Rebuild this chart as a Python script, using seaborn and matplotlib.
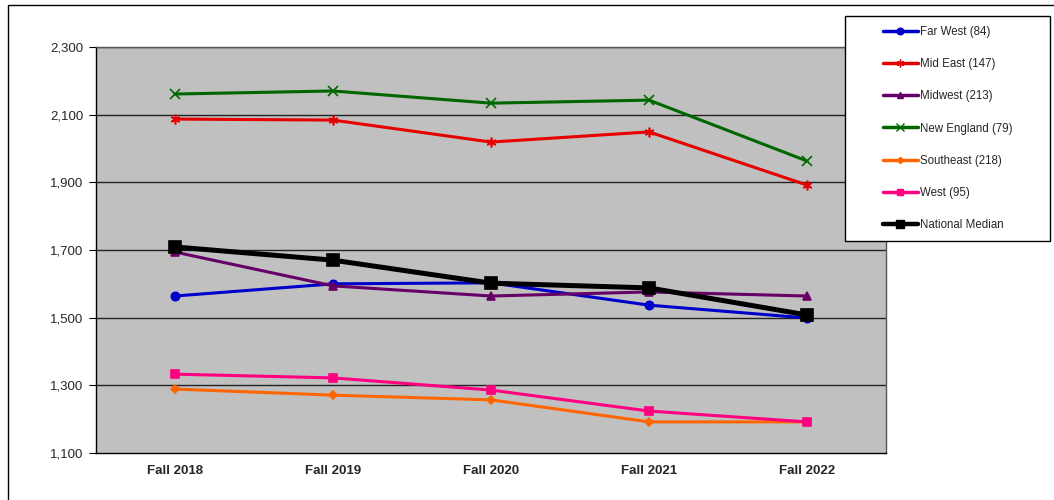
import matplotlib
matplotlib.use("Agg")
import matplotlib.pyplot as plt
import matplotlib.patches as mpatches
from matplotlib.lines import Line2D
import numpy as np
import pandas as pd
import seaborn as sns

seasons = ["Fall 2018", "Fall 2019", "Fall 2020", "Fall 2021", "Fall 2022"]

far_west = [1564, 1600, 1603, 1537, 1499]
mid_east = [2087, 2084, 2019, 2049, 1892]
midwest = [1694, 1594, 1564, 1576, 1564]
new_england = [2161, 2170, 2134, 2143, 1963]
southeast = [1289, 1271, 1257, 1192, 1192]
west = [1333, 1322, 1286, 1224, 1192]
national = [1709, 1670, 1602, 1588, 1508]

labels = ["Far West (84)", "Mid East (147)", "Midwest (213)", "New England (79)",
          "Southeast (218)", "West (95)", "National Median"]
series = [far_west, mid_east, midwest, new_england, southeast, west, national]
colors = ["#0000CC", "#E60000", "#660066", "#006600", "#FF6600", "#FF0080", "#000000"]
markers = ["o", (6, 2, 0), "^", "x", "D", "s", "s"]
msizes = [6, 7, 6, 7, 4, 6, 8]
lwidths = [2.2, 2.2, 2.2, 2.2, 2.2, 2.2, 3.6]

sns.set_style("white")
plt.rcParams["font.family"] = ["Liberation Sans", "DejaVu Sans"]

fig = plt.figure(figsize=(10.54, 5.0), dpi=100)
ax = fig.add_axes([96 / 1054, 47 / 500, 790 / 1054, 406 / 500])
ax.set_facecolor("#C0C0C0")

x = np.arange(len(seasons))
for vals, lab, c, m, ms, lw in zip(series, labels, colors, markers, msizes, lwidths):
    df = pd.DataFrame({"x": x, "y": vals})
    sns.lineplot(data=df, x="x", y="y", ax=ax, color=c, marker=m, markersize=ms,
                 markeredgecolor=c, markeredgewidth=1.2, linewidth=lw, label=lab, legend=False)

ax.set_xlim(-0.5, 4.5)
ax.set_ylim(1100, 2300)
ax.set_yticks(range(1100, 2301, 200))
ax.set_yticklabels([f"{v:,}" for v in range(1100, 2301, 200)], fontsize=9.5)
ax.set_xticks(x)
ax.set_xticklabels(seasons, fontsize=9.5, fontweight="bold")
ax.set_xticks(np.arange(-0.5, 4.6, 1), minor=True)
ax.tick_params(axis="x", which="major", length=0, pad=9)
ax.tick_params(axis="x", which="minor", length=4, direction="out", color="black")
ax.tick_params(axis="y", length=5, direction="out", color="black", left=True, pad=4)
ax.set_xlabel("")
ax.set_ylabel("")
for v in range(1300, 2301, 200):
    ax.axhline(v, color="#222222", lw=1.0, zorder=0.5)
for s in ["left", "bottom"]:
    ax.spines[s].set_color("black")
    ax.spines[s].set_linewidth(1.0)
for s in ["top", "right"]:
    ax.spines[s].set_color("#555555")
    ax.spines[s].set_linewidth(1.0)

# outer chart frame
fig.patches.append(mpatches.Rectangle((8 / 1054, -0.05), 1.1, 1.05 - 5 / 500,
                                      transform=fig.transFigure, fill=False,
                                      edgecolor="black", lw=1.0))
# legend box
fig.patches.append(mpatches.Rectangle((845 / 1054, 1 - 241 / 500), 205 / 1054, 225 / 500,
                                      transform=fig.transFigure, facecolor="white",
                                      edgecolor="black", lw=1.0, zorder=3))

handles = [Line2D([0], [0], color=c, marker=m, markersize=ms * 0.8, markeredgecolor=c,
                  lw=2.5 if i < 6 else 3.2)
           for i, (c, m, ms) in enumerate(zip(colors, markers, msizes))]
leg = fig.legend(handles, labels, loc="upper left",
                 bbox_to_anchor=(883 / 1054, 1 - 26 / 500), frameon=False,
                 fontsize=8.3, handlelength=3.0, labelspacing=1.75, handletextpad=0.2,
                 borderpad=0, borderaxespad=0)
leg.set_zorder(4)

fig.savefig("out.png", dpi=100, facecolor="white")
